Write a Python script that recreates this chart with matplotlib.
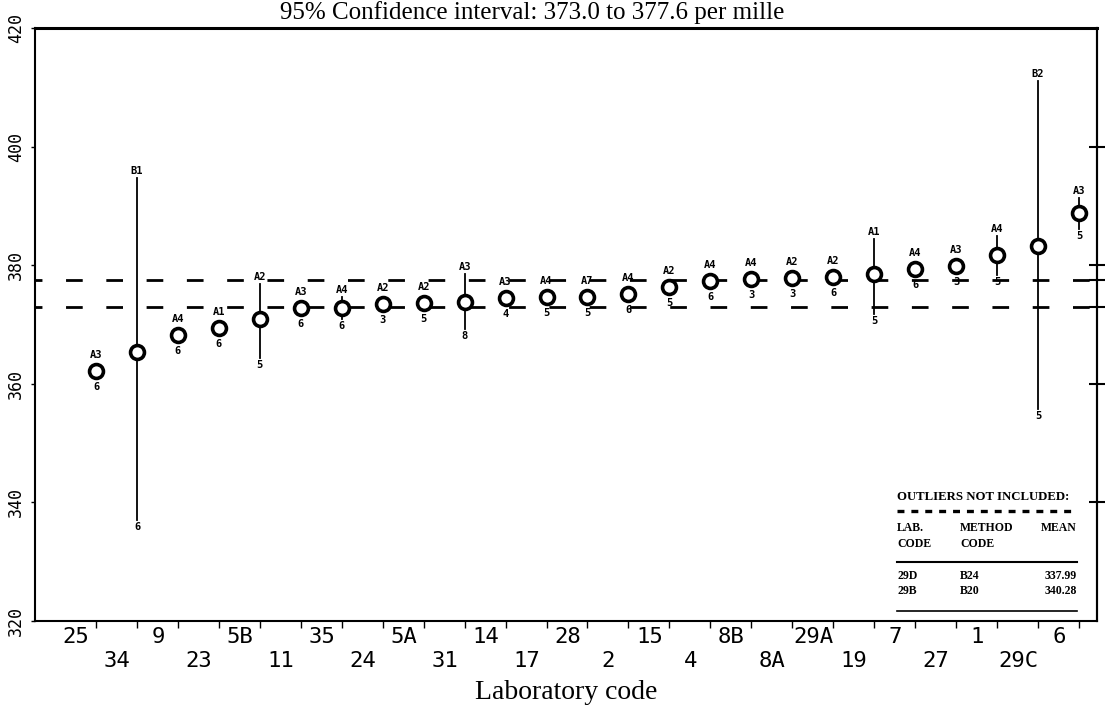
import numpy as np
import matplotlib.pyplot as plt

plt.rcParams['lines.scale_dashes'] = False

# laboratory codes in plotting order (sorted by mean)
labs = ['25', '34', '9', '23', '5B', '11', '35', '24', '5A', '31', '14', '17', '28',
        '2', '15', '4', '8B', '8A', '29A', '19', '7', '27', '1', '29C', '6']
methods = ['A3', 'B1', 'A4', 'A1', 'A2', 'A3', 'A4', 'A2', 'A2', 'A3', 'A3', 'A4', 'A7',
           'A4', 'A2', 'A4', 'A4', 'A2', 'A2', 'A1', 'A4', 'A3', 'A4', 'B2', 'A3']
n_results = ['6', '6', '6', '6', '5', '6', '6', '3', '5', '8', '4', '5', '5',
             '6', '5', '6', '3', '3', '6', '5', '6', '3', '5', '5', '5']
means = [362.1, 365.3, 368.3, 369.5, 370.9, 372.8, 372.8, 373.4, 373.6, 373.8, 374.4,
         374.6, 374.7, 375.1, 376.4, 377.3, 377.7, 377.8, 378.0, 378.5, 379.3, 379.9,
         381.7, 383.2, 388.8]
nan = np.nan
bar_low = [nan, 337.0, nan, nan, 364.3, nan, 370.9, nan, nan, 369.2, nan, nan, nan,
           nan, nan, nan, nan, nan, nan, 371.8, nan, nan, 378.4, 355.8, 386.2]
bar_high = [nan, 394.8, nan, nan, 376.9, nan, 374.7, nan, nan, 378.5, nan, nan, nan,
            nan, nan, nan, nan, nan, nan, 384.5, nan, nan, 385.0, 411.0, 391.4]

ci_low, ci_high = 373.0, 377.6

outlier_codes = ['29D', '29B']
outlier_methods = ['B24', 'B20']
outlier_means = ['337.99', '340.28']

mono = 'DejaVu Sans Mono'
serif = 'Liberation Serif'

fig = plt.figure(figsize=(11.05, 7.16), dpi=100)
ax = fig.add_axes([0.0317, 0.1327, 0.961, 0.828])

x = np.arange(len(labs))

# confidence interval lines
for yv in (ci_low, ci_high):
    ax.axhline(yv, color='black', lw=2, linestyle=(7, (12, 17)), zorder=1)

# ranges
for i in x:
    if not np.isnan(bar_low[i]):
        ax.plot([i, i], [bar_low[i], bar_high[i]], color='black', lw=1.3, zorder=2)

ax.plot(x, means, linestyle='None', marker='o', ms=10, mfc='white', mec='black',
        mew=2.6, zorder=3)

# method code above, number of results below
for i in x:
    if np.isnan(bar_high[i]):
        top, dy_top = means[i], 11
        bot, dy_bot = means[i], -11
    else:
        top, dy_top = bar_high[i], 2
        bot, dy_bot = bar_low[i], -2
    ax.annotate(methods[i], (i, top), xytext=(0, dy_top), textcoords='offset pixels',
                ha='center', va='bottom', fontsize=7.5, fontfamily=mono, fontweight='bold')
    ax.annotate(n_results[i], (i, bot), xytext=(0, dy_bot), textcoords='offset pixels',
                ha='center', va='top', fontsize=7.5, fontfamily=mono, fontweight='bold')

ax.set_xlim(-1.49, 24.44)
ax.set_ylim(320, 420)

# x tick labels alternate between two rows, drawn a little left of the tick
ax.set_xticks(x)
ax.set_xticklabels([])
ax.tick_params(axis='x', direction='out', length=5, width=1)
for i in x:
    row = -16 if i % 2 == 0 else -40
    ax.annotate(labs[i], (i, 0), xycoords=('data', 'axes fraction'),
                xytext=(-20, row), textcoords='offset pixels',
                ha='center', va='center', fontsize=16, fontfamily=mono)

ax.set_yticks([320, 340, 360, 380, 400, 420])
ax.set_yticklabels(['320', '340', '360', '380', '400', '420'], rotation=90,
                   va='center', fontsize=12, fontfamily=mono)
ax.tick_params(axis='y', direction='out', length=3, width=1, pad=4)

sec = ax.secondary_yaxis('right')
sec.set_yticks([340, 360, ci_low, ci_high, 380, 400])
sec.set_yticklabels([])
sec.tick_params(direction='inout', length=12, width=1.5)
sec.spines['right'].set_linewidth(1.5)

for side in ['left', 'bottom', 'right']:
    ax.spines[side].set_linewidth(1.5)
ax.spines['top'].set_linewidth(2.2)

ax.set_xlabel('Laboratory code', fontsize=20, fontfamily=serif, labelpad=34)

fig.text(0.482, 1 - 19 / 716, '95% Confidence interval: 373.0 to 377.6 per mille',
         ha='center', va='baseline', fontsize=18, fontfamily=serif)

# outliers table
tx = [0.812, 0.871, 0.981]
bold = dict(transform=ax.transAxes, fontfamily=serif, fontweight='bold', va='center')
ax.text(tx[0], 0.209, 'OUTLIERS NOT INCLUDED:', fontsize=9.2, **bold)
ax.plot([tx[0], tx[2]], [0.186, 0.186], transform=ax.transAxes, color='black', lw=2.4,
        linestyle=(0, (5, 5)))
ax.text(tx[0], 0.157, 'LAB.', fontsize=8.5, **bold)
ax.text(tx[1], 0.157, 'METHOD', fontsize=8.5, **bold)
ax.text(tx[2], 0.157, 'MEAN', fontsize=8.5, ha='right', **bold)
ax.text(tx[0], 0.130, 'CODE', fontsize=8.5, **bold)
ax.text(tx[1], 0.130, 'CODE', fontsize=8.5, **bold)
ax.plot([tx[0], tx[2]], [0.0995, 0.0995], transform=ax.transAxes, color='black', lw=1.5)
for k, yy in enumerate([0.076, 0.051]):
    ax.text(tx[0], yy, outlier_codes[k], fontsize=8.5, **bold)
    ax.text(tx[1], yy, outlier_methods[k], fontsize=8.5, **bold)
    ax.text(tx[2], yy, outlier_means[k], fontsize=8.5, ha='right', **bold)
ax.plot([tx[0], tx[2]], [0.017, 0.017], transform=ax.transAxes, color='black', lw=1.2)

fig.savefig('out.png', dpi=100)
